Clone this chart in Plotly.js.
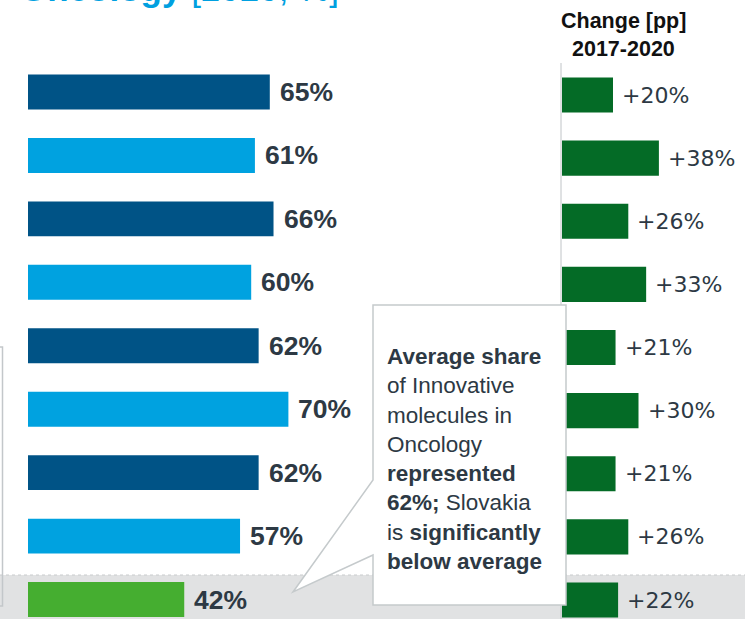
<!DOCTYPE html>
<html>
<head>
<meta charset="utf-8">
<script src="https://cdn.plot.ly/plotly-3.0.1.min.js"></script>
<style>
  html, body { margin: 0; padding: 0; background: #fff; }
  #chart { width: 745px; height: 619px; }
</style>
</head>
<body>
<div id="chart"></div>
<script>
// Share of innovative molecules in Oncology, 2020 [%] and change 2017-2020 [pp]
// (market names are cropped off in the source, only Slovakia is known)
var markets = ["Market 1", "Market 2", "Market 3", "Market 4", "Market 5",
               "Market 6", "Market 7", "Market 8", "Slovakia"];
var share2020 = [65, 61, 66, 60, 62, 70, 62, 57, 42];
var change1720 = [20, 38, 26, 33, 21, 30, 21, 26, 22];

var W = 745, H = 619;
// pixel -> paper helpers (margins are zero)
function px(x) { return x / W; }
function py(y) { return 1 - y / H; }

var rows = markets.map((m, i) => i);
var barColors = markets.map((m, i) =>
  m === "Slovakia" ? "#45ae30" : (i % 2 === 0 ? "#005386" : "#00a2e0"));

var shareTrace = {
  type: "bar",
  orientation: "h",
  x: share2020,
  y: rows,
  xaxis: "x",
  yaxis: "y",
  width: 0.55,
  marker: { color: barColors },
  hoverinfo: "skip"
};

var changeTrace = {
  type: "bar",
  orientation: "h",
  x: change1720,
  y: rows,
  xaxis: "x2",
  yaxis: "y2",
  width: 0.555,
  marker: { color: "#046b26" },
  hoverinfo: "skip"
};

var textCol = "#2d3944";
var annotations = [];

// value labels
share2020.forEach(function (v, i) {
  annotations.push({
    x: v, y: i, xref: "x", yref: "y",
    xanchor: "left", yanchor: "middle", xshift: 8,
    text: "<b>" + v + "%</b>", showarrow: false,
    font: { family: "Liberation Sans, Arial", size: 26.5, color: textCol }
  });
});
change1720.forEach(function (v, i) {
  annotations.push({
    x: v, y: i, xref: "x2", yref: "y2",
    xanchor: "left", yanchor: "middle", xshift: 7,
    text: "+" + v + "%", showarrow: false,
    font: { family: "DejaVu Sans", size: 22, color: textCol }
  });
});

// cropped title at the very top
annotations.push({
  x: px(18), y: py(-11), xref: "paper", yref: "paper",
  xanchor: "left", yanchor: "middle", showarrow: false,
  text: "<b>Oncology</b> [2020, %]",
  font: { family: "Liberation Sans, Arial", size: 35, color: "#00a0e0" }
});

// right panel header
annotations.push({
  x: px(623), y: py(21), xref: "paper", yref: "paper",
  xanchor: "center", yanchor: "middle", showarrow: false,
  text: "<b>Change [pp]</b>",
  font: { family: "Liberation Sans, Arial", size: 21.5, color: "#111" }
});
annotations.push({
  x: px(623), y: py(49), xref: "paper", yref: "paper",
  xanchor: "center", yanchor: "middle", showarrow: false,
  text: "<b>2017-2020</b>",
  font: { family: "Liberation Sans, Arial", size: 21.5, color: "#111" }
});

// callout text
annotations.push({
  x: px(385), y: py(342), xref: "paper", yref: "paper",
  xanchor: "left", yanchor: "top", align: "left", showarrow: false,
  text: "<b>Average share</b><br>of Innovative<br>molecules in<br>Oncology<br>" +
        "<b>represented</b><br><b>62%;</b> Slovakia<br>is <b>significantly</b><br><b>below average</b>",
  font: { family: "Liberation Sans, Arial", size: 22.5, color: textCol }
});

// callout bubble outline
var bubble = [[373, 305], [566, 305], [566, 605], [373, 605], [373, 555], [293, 592], [373, 480]];
var bubblePath = "M " + bubble.map(p => px(p[0]) + " " + py(p[1])).join(" L ") + " Z";

var shapes = [
  // grey band behind Slovakia row
  { type: "rect", xref: "paper", yref: "paper", x0: 0, x1: 1, y0: py(619), y1: py(575),
    fillcolor: "#e1e2e3", line: { width: 0 }, layer: "below" },
  { type: "line", xref: "paper", yref: "paper", x0: 0, x1: 1, y0: py(575), y1: py(575),
    line: { color: "#c9cbcd", width: 1, dash: "dot" }, layer: "below" },
  // edge of a box cropped on the left
  { type: "rect", xref: "paper", yref: "paper", x0: px(-20), x1: px(2.5), y0: py(606), y1: py(347),
    line: { color: "#c3c7ca", width: 1.5 }, layer: "below" },
  // right panel baseline
  { type: "line", xref: "paper", yref: "paper", x0: px(561), x1: px(561), y0: py(63), y1: py(619),
    line: { color: "#c0c4c7", width: 1 }, layer: "below" },
  // callout
  { type: "path", xref: "paper", yref: "paper", path: bubblePath,
    fillcolor: "#ffffff", line: { color: "#c5cacc", width: 1.5 }, layer: "above" }
];

var layout = {
  width: W,
  height: H,
  margin: { l: 0, r: 0, t: 0, b: 0 },
  paper_bgcolor: "#fff",
  plot_bgcolor: "rgba(0,0,0,0)",
  showlegend: false,
  xaxis: { domain: [px(28), px(400)], range: [0, 100], visible: false, anchor: "y" },
  yaxis: { domain: [0, 1], range: [8.307, -1.450], visible: false, anchor: "x" },
  xaxis2: { domain: [px(562), 1], range: [0, 183 / 2.55], visible: false, anchor: "y2" },
  yaxis2: { domain: [0, 1], range: [8.301, -1.505], visible: false, anchor: "x2" },
  shapes: shapes,
  annotations: annotations
};

Plotly.newPlot("chart", [shareTrace, changeTrace], layout, { displayModeBar: false, staticPlot: true });
</script>
</body>
</html>
